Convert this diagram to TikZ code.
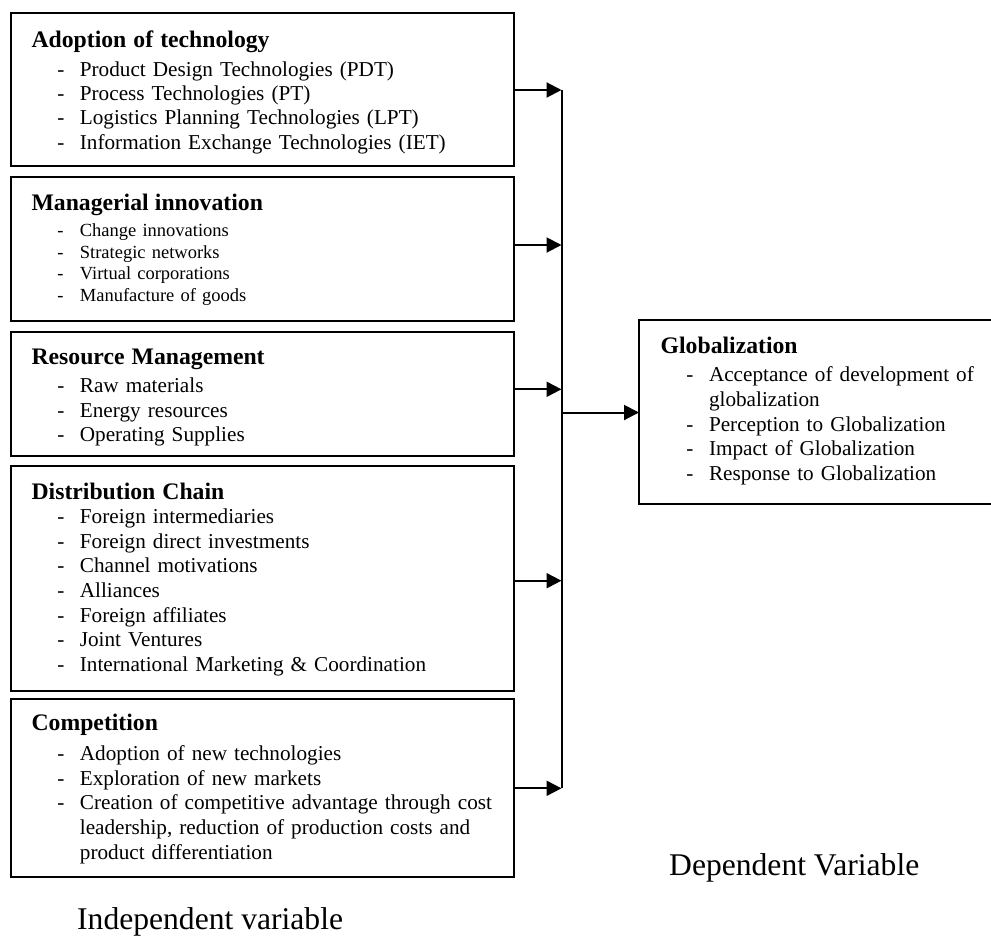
\documentclass[tikz,border=0pt]{standalone}
\usepackage{fontspec}
\setmainfont{Liberation Serif}
\usetikzlibrary{arrows.meta}
\newcommand\itm[1]{\hspace*{25.7pt}\makebox[22.6pt][l]{-}#1}
\newcommand\cnt[1]{\hspace*{48.3pt}#1}
\newcommand\hd[1]{{\fontsize{23.7}{24}\selectfont\bfseries #1}}
\begin{document}
\begin{tikzpicture}[x=1pt,y=-1pt,
  boxstyle/.style={draw, line width=2pt, anchor=north west, inner sep=0pt, outer sep=0pt},
  txt/.style={anchor=base west, inner sep=0pt, outer sep=0pt, align=left, text width=#1},
  link/.style={line width=2pt},
  arr/.style={line width=2pt, -{Triangle[length=15pt,width=15pt]}},
  lbl/.style={anchor=base west, inner sep=0pt, font=\fontsize{31.6}{36}\selectfont}
]
\useasboundingbox (0,0) rectangle (991,935);

% boxes
\node[boxstyle, minimum width=503.3pt, minimum height=152.7pt] (b1) at (10.7,13.3) {};
\node[boxstyle, minimum width=503.3pt, minimum height=143.7pt] (b2) at (10.7,177.3) {};
\node[boxstyle, minimum width=503.3pt, minimum height=124.3pt] (b3) at (10.7,331.7) {};
\node[boxstyle, minimum width=503.3pt, minimum height=224.7pt] (b4) at (10.7,466) {};
\node[boxstyle, minimum width=503.3pt, minimum height=178pt] (b5) at (10.7,699.3) {};
\node[boxstyle, minimum width=360pt, minimum height=184pt] (g) at (639,320) {};

% texts
\node[txt=470pt, font=\fontsize{21.2}{24.33}\selectfont] (t1) at (31.6,47.3) {\hd{Adoption of technology}\\[4.6pt]
\itm{Product Design Technologies (PDT)}\\
\itm{Process Technologies (PT)}\\
\itm{Logistics Planning Technologies (LPT)}\\
\itm{Information Exchange Technologies (IET)}};

\node[txt=470pt, font=\fontsize{18.5}{21.5}\selectfont] (t2) at (31.6,210.7) {\hd{Managerial innovation}\\[4.5pt]
\itm{Change innovations}\\
\itm{Strategic networks}\\
\itm{Virtual corporations}\\
\itm{Manufacture of goods}};

\node[txt=470pt, font=\fontsize{21.2}{24.7}\selectfont] (t3) at (31.6,364) {\hd{Resource Management}\\[3.6pt]
\itm{Raw materials}\\
\itm{Energy resources}\\
\itm{Operating Supplies}};

\node[txt=470pt, font=\fontsize{21.2}{24.7}\selectfont] (t4) at (31.6,499.3) {\hd{Distribution Chain}\\[-0.7pt]
\itm{Foreign intermediaries}\\
\itm{Foreign direct investments}\\
\itm{Channel motivations}\\
\itm{Alliances}\\
\itm{Foreign affiliates}\\
\itm{Joint Ventures}\\
\itm{International Marketing \& Coordination}};

\node[txt=470pt, font=\fontsize{21.2}{24.65}\selectfont] (t5) at (31.6,730) {\hd{Competition}\\[6pt]
\itm{Adoption of new technologies}\\
\itm{Exploration of new markets}\\
\itm{Creation of competitive advantage through cost}\\
\cnt{leadership, reduction of production costs and}\\
\cnt{product differentiation}};

\node[txt=325pt, font=\fontsize{21.2}{24.75}\selectfont] (tg) at (660.7,353.3) {\hd{Globalization}\\[3.65pt]
\itm{Acceptance of development of}\\
\cnt{globalization}\\
\itm{Perception to Globalization}\\
\itm{Impact of Globalization}\\
\itm{Response to Globalization}};

% labels
\node[lbl] (indep) at (77,929) {Independent variable};
\node[lbl] (dep) at (669,875) {Dependent Variable};

% connectors
\coordinate (v1) at (561.5,90);
\coordinate (v2) at (561.5,245);
\coordinate (v3) at (561.5,389.3);
\coordinate (v4) at (561.5,580.7);
\coordinate (v5) at (561.5,788.3);
\coordinate (vm) at (561.5,412.5);
\draw[link] (v1) -- (v5);
\draw[arr] (b1.east |- v1) -- (v1);
\draw[arr] (b2.east |- v2) -- (v2);
\draw[arr] (b3.east |- v3) -- (v3);
\draw[arr] (b4.east |- v4) -- (v4);
\draw[arr] (b5.east |- v5) -- (v5);
\draw[arr] (vm) -- (g.west |- vm);
\end{tikzpicture}
\end{document}
